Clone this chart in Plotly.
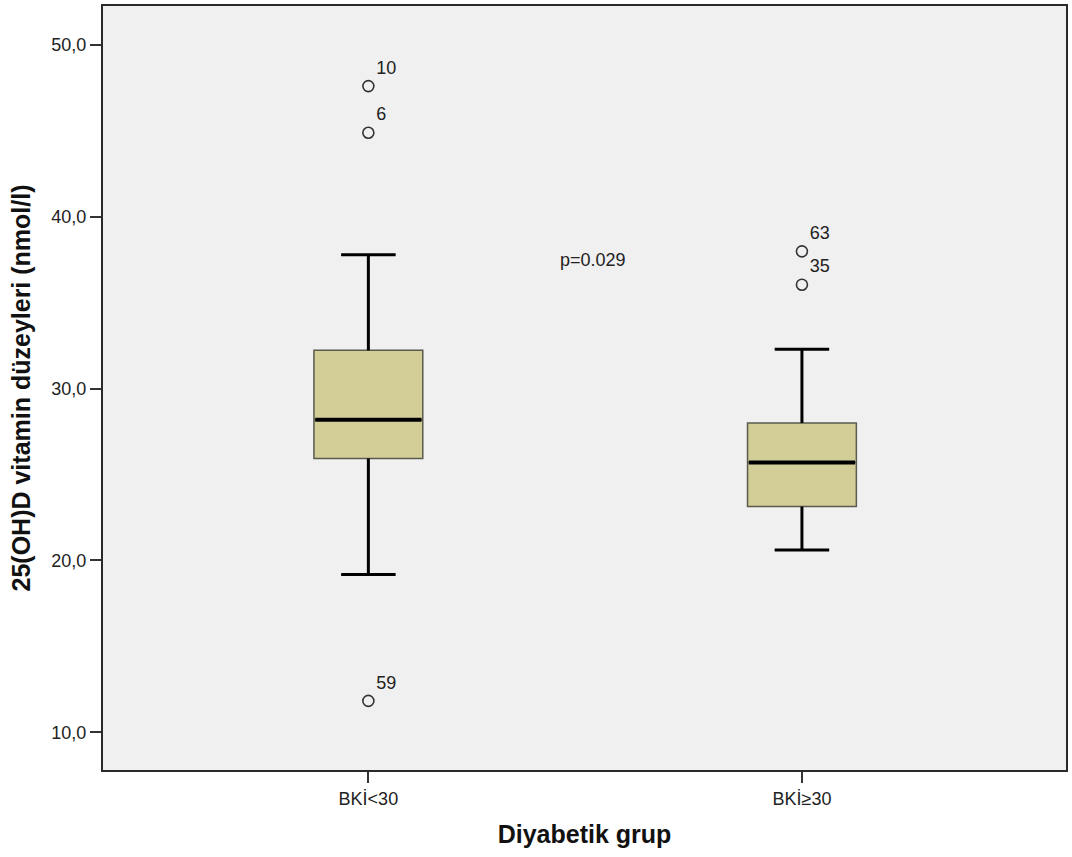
import plotly.graph_objects as go

# ---- data ----
groups = ["BKİ<30", "BKİ≥30"]
q1 = [25.93, 23.13]
median = [28.19, 25.70]
q3 = [32.22, 28.00]
lower_whisker = [19.18, 20.61]
upper_whisker = [37.78, 32.29]

outlier_group = [0, 0, 0, 1, 1]
outlier_value = [47.59, 44.88, 11.83, 37.98, 36.04]
outlier_label = ["10", "6", "59", "63", "35"]

p_text = "p=0.029"

# ---- styling ----
FONT = "Liberation Sans, Arial, sans-serif"
BOX_W = 0.251
CAP_W = BOX_W * 0.5
pos = list(range(len(groups)))

fig = go.Figure()

fig.add_trace(go.Box(
    x=pos, q1=q1, median=median, q3=q3,
    lowerfence=lower_whisker, upperfence=upper_whisker,
    width=BOX_W, whiskerwidth=0.5,
    fillcolor="#D3CE97", line=dict(color="#5a5a4e", width=1.5),
    boxpoints=False, showlegend=False, hoverinfo="skip",
))

# whiskers + caps (thicker, black)
wx, wy = [], []
for i, p in enumerate(pos):
    wx += [p, p, None, p, p, None,
           p - CAP_W / 2, p + CAP_W / 2, None, p - CAP_W / 2, p + CAP_W / 2, None]
    wy += [q3[i], upper_whisker[i], None, q1[i], lower_whisker[i], None,
           upper_whisker[i], upper_whisker[i], None, lower_whisker[i], lower_whisker[i], None]
fig.add_trace(go.Scatter(x=wx, y=wy, mode="lines", line=dict(color="black", width=3),
                         showlegend=False, hoverinfo="skip"))

# median lines
mx, my = [], []
for i, p in enumerate(pos):
    mx += [p - BOX_W / 2 + 0.003, p + BOX_W / 2 - 0.003, None]
    my += [median[i], median[i], None]
fig.add_trace(go.Scatter(x=mx, y=my, mode="lines", line=dict(color="black", width=4),
                         showlegend=False, hoverinfo="skip"))

# outliers
fig.add_trace(go.Scatter(
    x=[pos[g] for g in outlier_group], y=outlier_value,
    mode="markers+text", text=outlier_label, textposition="top right",
    textfont=dict(family=FONT, size=18, color="#222"),
    marker=dict(symbol="circle-open", size=11, color="#333", line=dict(width=1.6)),
    showlegend=False, hoverinfo="skip",
))

fig.add_annotation(x=0.519, y=37.5, text=p_text, showarrow=False,
                   font=dict(family=FONT, size=18, color="#222"),
                   xanchor="center", yanchor="middle")

fig.update_layout(
    width=1072, height=857,
    margin=dict(l=103, r=4, t=4, b=87),
    paper_bgcolor="white", plot_bgcolor="#F0F0F0",
    separators=",.",
    font=dict(family=FONT, size=18, color="#222"),
    xaxis=dict(
        range=[-0.612, 1.609], tickvals=pos, ticktext=groups,
        ticks="outside", ticklen=11, tickwidth=2, tickcolor="#333",
        showgrid=False, zeroline=False,
        showline=True, linecolor="#2a2a2a", linewidth=2, mirror=True,
        tickfont=dict(family=FONT, size=18, color="#222"),
        title=dict(text="<b>Diyabetik grup</b>", standoff=18,
                   font=dict(family=FONT, size=25, color="#111")),
    ),
    yaxis=dict(
        range=[7.81, 52.25], tickvals=[10, 20, 30, 40, 50], tickformat=".1f",
        ticks="outside", ticklen=11, tickwidth=2, tickcolor="#333",
        showgrid=False, zeroline=False,
        showline=True, linecolor="#2a2a2a", linewidth=2, mirror=True,
        tickfont=dict(family=FONT, size=18, color="#222"),
        title=dict(text="<b>25(OH)D vitamin düzeyleri (nmol/l)</b>", standoff=14,
                   font=dict(family=FONT, size=25, color="#111")),
    ),
)

fig.write_html("out.html")
